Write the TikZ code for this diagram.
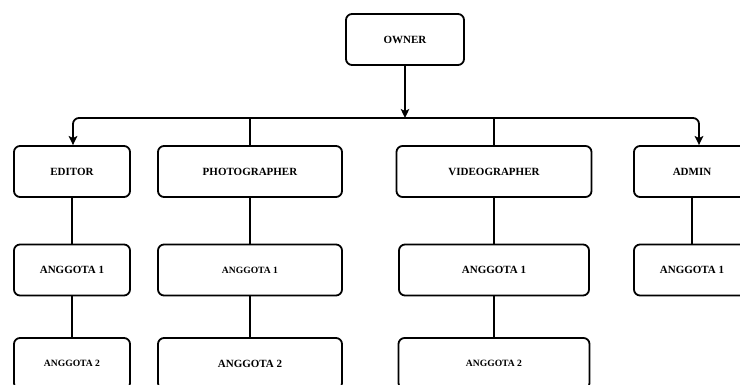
\documentclass[tikz,border=0pt]{standalone}
\usepackage{fontspec}
\setmainfont{Liberation Serif}
\usetikzlibrary{arrows.meta}
\tikzset{
  box/.style={draw=black, line width=1.8pt, rounded corners=6pt, fill=white,
    inner sep=0pt, minimum height=51pt, font=\fontsize{11}{12}\selectfont\bfseries, align=center},
  small/.style={font=\fontsize{9.6}{11}\selectfont\bfseries},
  conn/.style={draw=black, line width=1.8pt},
  arr/.style={conn, -{Stealth[length=9pt,width=8.5pt,inset=2pt]}}
}
\begin{document}
\begin{tikzpicture}[x=1pt,y=-1pt]
\useasboundingbox (0,0) rectangle (740,385);
\clip (0,0) rectangle (740,385);
\fill[white] (0,0) rectangle (740,385);
% top
\node[box, minimum width=118pt] (owner) at (405,39.5) {OWNER};
% row 1
\node[box, minimum width=116pt] (editor) at (72,171.5) {EDITOR};
\node[box, minimum width=184pt] (photo) at (250,171.5) {PHOTOGRAPHER};
\node[box, minimum width=195pt] (video) at (494,171.5) {VIDEOGRAPHER};
\node[box, minimum width=116pt] (admin) at (692,171.5) {ADMIN};
% row 2
\node[box, minimum width=116pt] (e1) at (72,270) {ANGGOTA 1};
\node[box, small, minimum width=184pt] (p1) at (250,270) {ANGGOTA 1};
\node[box, minimum width=190pt] (v1) at (494,270) {ANGGOTA 1};
\node[box, minimum width=116pt] (a1) at (692,270) {ANGGOTA 1};
% row 3
\node[box, small, minimum width=116pt] (e2) at (72,363.5) {ANGGOTA 2};
\node[box, minimum width=184pt] (p2) at (250,363.5) {ANGGOTA 2};
\node[box, small, minimum width=191pt] (v2) at (494,363.5) {ANGGOTA 2};
% bus
\coordinate (bus) at (405,118);
\coordinate (abus) at (699,118);
\coordinate (ebus) at (73,118);
\path[arr] (owner.south -| bus) -- (bus);
\path[arr, rounded corners=6pt] (bus) -- (ebus) -- (ebus |- editor.north);
\path[arr, rounded corners=6pt] (bus) -- (abus) -- (abus |- admin.north);
\path[conn] (bus -| photo) -- (photo.north);
\path[conn] (bus -| video) -- (video.north);
% vertical chains
\path[conn] (editor) -- (e1);
\path[conn] (e1) -- (e2);
\path[conn] (photo) -- (p1);
\path[conn] (p1) -- (p2);
\path[conn] (video) -- (v1);
\path[conn] (v1) -- (v2);
\path[conn] (admin) -- (a1);
\end{tikzpicture}
\end{document}
